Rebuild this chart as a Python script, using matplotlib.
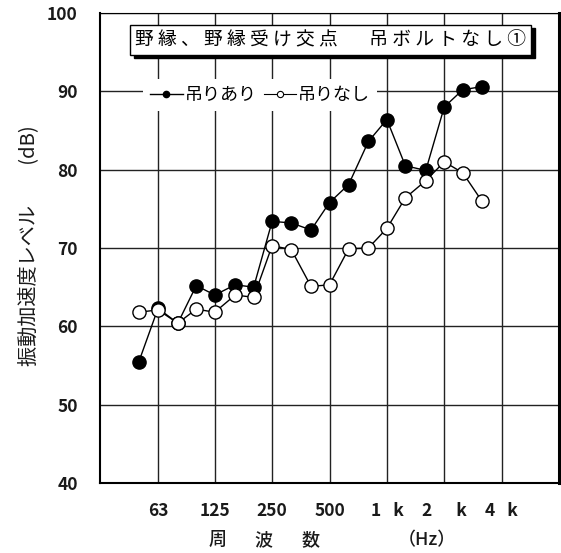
import matplotlib
matplotlib.use("Agg")
import matplotlib.pyplot as plt
from matplotlib.lines import Line2D
from matplotlib.patches import Rectangle
from matplotlib.ticker import FixedLocator, NullLocator

plt.rcParams['font.family'] = ['Noto Sans CJK JP', 'DejaVu Sans']

# ---- data ----
freqs = [50, 63, 80, 100, 125, 160, 200, 250, 315, 400, 500, 630, 800,
         1000, 1250, 1600, 2000, 2500, 3150]
with_hanger = [55.5, 62.3, 60.4, 65.2, 64.0, 65.3, 65.0, 73.4, 73.2, 72.3,
               75.8, 78.1, 83.6, 86.4, 80.5, 79.9, 88.0, 90.2, 90.6]
without_hanger = [61.8, 62.1, 60.4, 62.2, 61.8, 64.0, 63.7, 70.3, 69.8, 65.1,
                  65.3, 69.9, 70.0, 72.5, 76.4, 78.6, 81.0, 79.6, 76.0]
xticks = [63, 125, 250, 500, 1000, 2000, 4000]
xticklabels = ["63", "125", "250", "500", "1   k", "2      k", "4   k"]
yticks = [40, 50, 60, 70, 80, 90, 100]
ytick_labels = ["40", "50", "60", "70", "80", "90", "100"]
series_labels = ["吊りあり", "吊りなし"]
title = "野 縁 、 野 縁 受 け 交 点 　  吊 ボ ル ト な し ①"
xlabel_parts = ["周", "波", "数", "（Hz）"]
ylabel = "振動加速度レベル　　(dB)"

W, H = 561, 553
fig = plt.figure(figsize=(W / 100, H / 100), dpi=100)
L, R, T, B = 100, 559, 13, 483
ax = fig.add_axes([L / W, 1 - B / H, (R - L) / W, (B - T) / H])

ax.set_xscale('log', base=2)
ax.set_xlim(31.25, 8000)
ax.set_ylim(40, 100)

ax.xaxis.set_major_locator(FixedLocator(xticks))
ax.xaxis.set_minor_locator(NullLocator())
ax.set_xticklabels(xticklabels)
ax.set_yticks(yticks)
ax.set_yticklabels(ytick_labels)
ax.tick_params(axis='both', length=0, labelsize=12.5, colors='#1a1a1a')
ax.tick_params(axis='x', pad=14)
ax.tick_params(axis='y', pad=16)
for lab in ax.get_xticklabels() + ax.get_yticklabels():
    lab.set_fontweight('bold')

ax.grid(True, color='#222222', linewidth=1.0)
ax.set_axisbelow(True)

for s in ['left', 'bottom']:
    ax.spines[s].set_linewidth(1.5)
ax.spines['right'].set_linewidth(2.2)
ax.spines['top'].set_linewidth(0.8)

ax.plot(freqs, with_hanger, '-', color='black', linewidth=1.0, marker='o',
        markersize=9.5, markerfacecolor='black', markeredgecolor='black',
        zorder=3)
ax.plot(freqs, without_hanger, '-', color='black', linewidth=1.0, marker='o',
        markersize=9.5, markerfacecolor='white', markeredgecolor='black',
        markeredgewidth=1.0, zorder=4)

# legend
handles = [
    Line2D([], [], color='black', linewidth=1.0, marker='o', markersize=4.5,
           markerfacecolor='black', markeredgecolor='black'),
    Line2D([], [], color='black', linewidth=0.8, marker='o', markersize=4.5,
           markerfacecolor='white', markeredgecolor='black', markeredgewidth=0.8),
]
leg = ax.legend(handles, series_labels, ncol=2, loc='center left',
                bbox_to_anchor=((143 - L) / (R - L), (B - 95) / (B - T)),
                frameon=True, fancybox=False, framealpha=1,
                facecolor='white', edgecolor='none', fontsize=13,
                handlelength=1.8, handletextpad=0.1, columnspacing=0.4,
                borderpad=0.4, borderaxespad=0)
leg.set_zorder(5)

# title box with shadow
bx0, bx1, by0, by1 = 130, 531, 25, 55
fig.patches.append(Rectangle(((bx0 + 4) / W, 1 - (by1 + 3) / H),
                             (bx1 - bx0) / W, (by1 - by0) / H,
                             transform=fig.transFigure, facecolor='black',
                             edgecolor='black', zorder=6))
fig.patches.append(Rectangle((bx0 / W, 1 - by1 / H), (bx1 - bx0) / W,
                             (by1 - by0) / H, transform=fig.transFigure,
                             facecolor='white', edgecolor='black',
                             linewidth=1.0, zorder=7))
fig.text((bx0 + bx1) / 2 / W, 1 - (by0 + by1) / 2 / H, title,
         ha='center', va='center', fontsize=13.5, color='black', zorder=8)

# x label pieces
for px, txt in zip([218, 263, 310, 427], xlabel_parts):
    fig.text(px / W, 1 - 540 / H, txt, ha='center', va='center',
             fontsize=13, fontweight='medium', color='#1a1a1a')

fig.text(30 / W, 1 - 246 / H, ylabel, rotation=90, ha='center', va='center',
         fontsize=14.5, color='#1a1a1a')

fig.savefig('out.png', dpi=100)
